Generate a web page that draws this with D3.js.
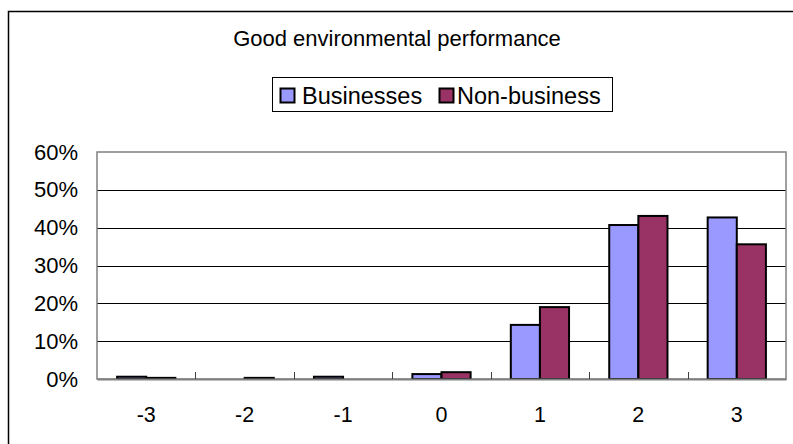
<!DOCTYPE html>
<html>
<head>
<meta charset="utf-8">
<script src="https://cdn.jsdelivr.net/npm/d3@7"></script>
<style>
  html, body { margin: 0; padding: 0; background: #fff; }
  svg { display: block; font-family: "Liberation Sans", Arial, sans-serif; }
</style>
</head>
<body>
<svg id="chart" width="793" height="444"></svg>
<script>
// Share of respondents by rating (-3 .. 3)
const categories = ["-3", "-2", "-1", "0", "1", "2", "3"];
const businesses = [0.006, 0.000, 0.006, 0.013, 0.143, 0.407, 0.427];
const nonBusiness = [0.003, 0.003, 0.000, 0.018, 0.190, 0.431, 0.356];
const yTicks = [0, 0.1, 0.2, 0.3, 0.4, 0.5, 0.6];
const seriesNames = ["Businesses", "Non-business"];
const seriesColors = ["#9999ff", "#993366"];

const svg = d3.select("#chart");
const W = 793, H = 444;
const plot = { left: 97, right: 786, top: 152, bottom: 379 };

// Outer chart frame (runs off the right and bottom edges)
svg.append("rect")
  .attr("x", 8.5).attr("y", 11.5)
  .attr("width", W + 20).attr("height", H + 20)
  .attr("fill", "#fff").attr("stroke", "#000").attr("stroke-width", 1.5);

const x = d3.scaleBand().domain(categories).range([plot.left, plot.right]);
const inner = d3.scaleBand().domain(seriesNames)
  .range([0, x.bandwidth()]).paddingOuter(0.69);
const y = d3.scaleLinear().domain([0, 0.6]).range([plot.bottom, plot.top]);

// Gridlines
svg.append("g").selectAll("line").data(yTicks.filter(t => t > 0 && t < 0.6)).join("line")
  .attr("x1", plot.left).attr("x2", plot.right)
  .attr("y1", d => Math.round(y(d)) + 0.5).attr("y2", d => Math.round(y(d)) + 0.5)
  .attr("stroke", "#000").attr("stroke-width", 1);

// Plot area border
svg.append("rect")
  .attr("x", plot.left).attr("y", plot.top)
  .attr("width", plot.right - plot.left).attr("height", plot.bottom - plot.top)
  .attr("fill", "none").attr("stroke", "#808080").attr("stroke-width", 1.5);

// Bars
const rows = categories.map((c, i) => ({ c, vals: [businesses[i], nonBusiness[i]] }));
const groups = svg.append("g").selectAll("g").data(rows).join("g")
  .attr("transform", d => `translate(${x(d.c)},0)`);
groups.selectAll("rect").data(d => d.vals.map((v, k) => ({ v, k }))).join("rect")
  .attr("x", d => inner(seriesNames[d.k]))
  .attr("width", inner.bandwidth())
  .attr("y", d => y(d.v))
  .attr("height", d => y(0) - y(d.v))
  .attr("fill", d => seriesColors[d.k])
  .attr("stroke", "#000").attr("stroke-width", 2);

// X axis
const xAxis = d3.axisBottom(x).tickSize(0).tickPadding(0);
const gx = svg.append("g").attr("transform", `translate(0,${plot.bottom})`).call(xAxis);
gx.select(".domain").attr("stroke", "#808080").attr("stroke-width", 2);
gx.selectAll(".tick text").attr("font-size", 21.5).attr("fill", "#000").attr("dy", 0).attr("y", 43);
// inside tick marks at category boundaries
svg.append("g").selectAll("line").data(categories.slice(1)).join("line")
  .attr("x1", d => Math.round(x(d)) + 0.5).attr("x2", d => Math.round(x(d)) + 0.5)
  .attr("y1", plot.bottom - 7).attr("y2", plot.bottom)
  .attr("stroke", "#404040").attr("stroke-width", 1);

// Y axis labels
const yAxis = d3.axisLeft(y).tickValues(yTicks).tickFormat(d3.format(".0%")).tickSize(0).tickPadding(19);
const gy = svg.append("g").attr("transform", `translate(${plot.left},0)`).call(yAxis);
gy.select(".domain").remove();
gy.selectAll(".tick text").attr("font-size", 22).attr("fill", "#000");

// Title
svg.append("text").attr("x", 397).attr("y", 46).attr("text-anchor", "middle")
  .attr("font-size", 22).text("Good environmental performance");

// Legend
const lg = svg.append("g");
lg.append("rect").attr("x", 272.5).attr("y", 77.5).attr("width", 340).attr("height", 34)
  .attr("fill", "#fff").attr("stroke", "#000").attr("stroke-width", 1);
const swatchX = [280, 439];
const labelX = [302, 457];
seriesNames.forEach((name, k) => {
  lg.append("rect").attr("x", swatchX[k] + 0.5).attr("y", 88.5).attr("width", 14).attr("height", 14)
    .attr("fill", seriesColors[k]).attr("stroke", "#000").attr("stroke-width", 2);
  lg.append("text").attr("x", labelX[k]).attr("y", 103.5).attr("font-size", 23.5).text(name);
});
</script>
</body>
</html>
